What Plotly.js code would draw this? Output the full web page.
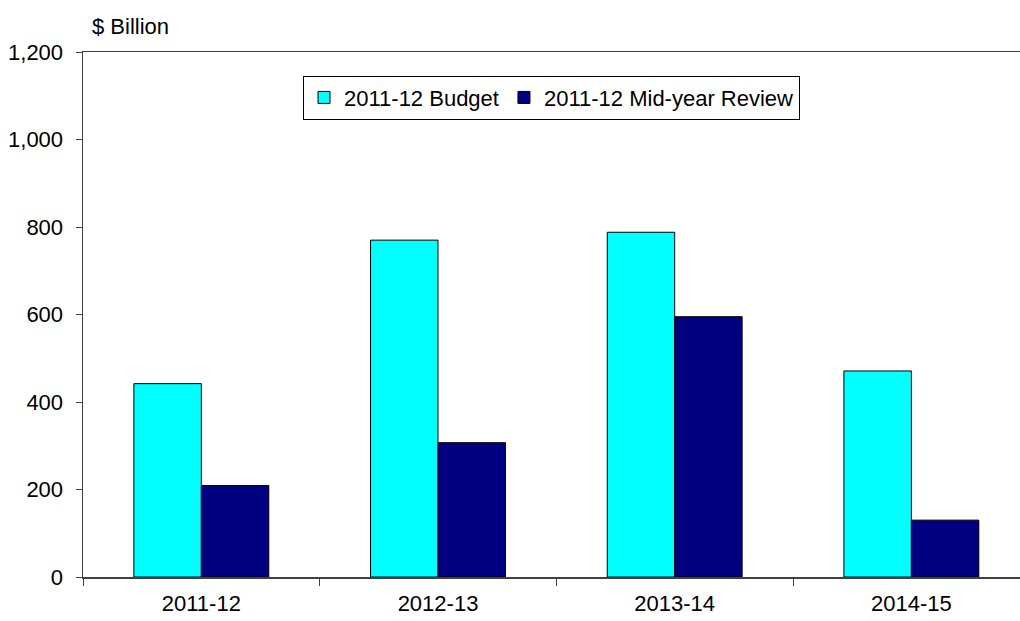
<!DOCTYPE html>
<html>
<head>
<meta charset="utf-8">
<script src="https://cdn.plot.ly/plotly-3.0.1.min.js"></script>
<style>html,body{margin:0;padding:0;background:#fff;}#chart{width:1020px;height:621px;}</style>
</head>
<body>
<div id="chart"></div>
<script>
const categories = ["2011-12", "2012-13", "2013-14", "2014-15"];
const budgetValues = [442, 770, 788, 471];
const midYearValues = [209, 307, 595, 130];
const seriesNames = ["2011-12 Budget", "2011-12 Mid-year Review"];
const yTickValues = [0, 200, 400, 600, 800, 1000, 1200];
const yTickLabels = ["0", "200", "400", "600", "800", "1,000", "1,200"];

const font = {family: "Liberation Sans, Arial, sans-serif", size: 22, color: "#000"};

const traces = [
  {type: "bar", name: seriesNames[0], x: categories, y: budgetValues,
   marker: {color: "#00FFFF", line: {color: "#000", width: 1}}},
  {type: "bar", name: seriesNames[1], x: categories, y: midYearValues,
   marker: {color: "#000080", line: {color: "#000", width: 1}}}
];

const layout = {
  width: 1020, height: 621,
  margin: {l: 83, r: 0, t: 52, b: 44, pad: 0},
  paper_bgcolor: "#fff", plot_bgcolor: "#fff",
  font: font,
  barmode: "group", bargap: 0.43, bargroupgap: 0,
  showlegend: true,
  legend: {orientation: "h", x: 0.5, xanchor: "center", y: 0.955, yanchor: "top",
    bgcolor: "#fff", bordercolor: "#000", borderwidth: 1, font: font,
    itemwidth: 30, tracegroupgap: 0},
  xaxis: {type: "category", range: [-0.5, 3.459], showgrid: false, zeroline: false,
    showline: true, linecolor: "#404040", linewidth: 1.5, mirror: true,
    ticks: "outside", tickson: "boundaries", ticklen: 7, tickcolor: "#404040",
    tickfont: font, ticklabelstandoff: 6, fixedrange: true},
  yaxis: {range: [0, 1200], tickvals: yTickValues, ticktext: yTickLabels,
    showgrid: false, zeroline: false, showline: true, linecolor: "#404040", linewidth: 1.5,
    ticks: "outside", ticklen: 6, tickcolor: "#404040", tickfont: font,
    ticklabelstandoff: 8, fixedrange: true},
  annotations: [{text: "$ Billion", xref: "paper", yref: "paper", x: 0.0075, y: 1.0486,
    xanchor: "left", yanchor: "middle", showarrow: false, font: font}]
};

Plotly.newPlot("chart", traces, layout, {displayModeBar: false, staticPlot: true});
</script>
</body>
</html>
